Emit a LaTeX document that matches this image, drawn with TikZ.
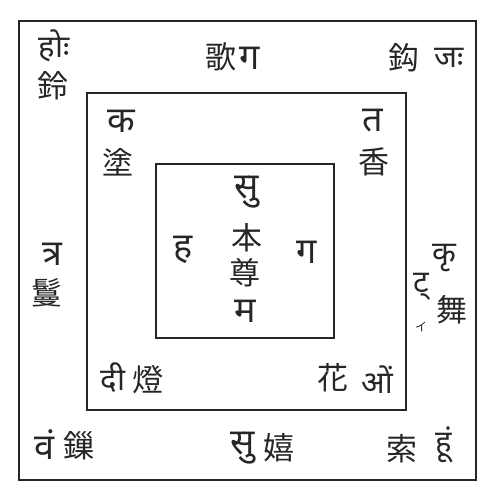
\documentclass[tikz,border=0pt]{standalone}
\usepackage{fontspec}
\newfontfamily\cjkfont{Noto Sans CJK JP}
\newfontfamily\devafont[Script=Devanagari]{Noto Sans}
\definecolor{ink}{HTML}{262626}

\begin{document}
\begin{tikzpicture}[x = 1pt, y = -1pt,
	han/.style = {font = \cjkfont\fontsize{31}{31}\selectfont, text = ink, inner sep = 0pt},
	seed/.style = {font = \devafont\bfseries\fontsize{36}{36}\selectfont, text = ink, inner sep = 0pt},
	small seed/.style = {seed, font = \devafont\bfseries\fontsize{31}{31}\selectfont},
	frame/.style = {draw = ink, line width = 1.3pt}]

	% Page

	\useasboundingbox (0, 0) rectangle (494, 502);

	% The three squares

	\draw [frame] (19, 21) rectangle (476, 480);
	\draw [frame] (87, 93) rectangle (406, 410);
	\draw [frame] (156, 164) rectangle (334, 338);

	% Centre

	\node [seed] (c-top) at (247, 192) {सु};
	\node [han] (ben) at (247, 238) {本};
	\node [han] (zun) at (245, 273) {尊};
	\node [seed] (c-bottom) at (245, 311) {म};
	\node [seed] (c-left) at (183, 250) {ह};
	\node [seed] (c-right) at (307, 252) {ग};

	% Middle ring

	\node [seed] (s-tu) at (121, 121) {क};
	\node [han] (tu) at (118, 162) {塗};
	\node [seed] (s-xiang) at (373, 121) {त};
	\node [han] (xiang) at (374, 162) {香};
	\node [small seed] (s-deng) at (113, 378) {दी};
	\node [han] (deng) at (148, 380) {燈};
	\node [han] (hua) at (333, 378) {花};
	\node [small seed] (s-hua) at (377, 380) {ओं};

	% Outer ring

	\node [small seed] (s-ling) at (54, 46) {होः};
	\node [han] (ling) at (53, 86) {鈴};
	\node [han] (ge) at (221, 57) {歌};
	\node [seed] (s-ge) at (250, 58) {ग};
	\node [han] (gou) at (404, 58) {鈎};
	\node [small seed] (s-gou) at (449, 58) {जः};

	\node [seed] (s-man) at (52, 254) {त्र};
	\node [han] (man) at (47, 293) {鬘};
	\node [small seed] (s-wu-a) at (444, 258) {कृ};
	\node [small seed] (s-wu-b) at (421, 287) {ट्};
	\node [han] (wu) at (452, 310) {舞};
	\node [han, font = \cjkfont\fontsize{12}{12}\selectfont] (wu-i) at (421, 327) {イ};

	\node [seed] (s-suo) at (45, 445) {वं};
	\node [han] (suo) at (79, 446) {鏁};
	\node [seed] (s-xi) at (243, 448) {सु};
	\node [han] (xi) at (279, 448) {嬉};
	\node [han] (so) at (402, 449) {索};
	\node [small seed] (s-so) at (444, 445) {हूं};

\end{tikzpicture}
\end{document}
